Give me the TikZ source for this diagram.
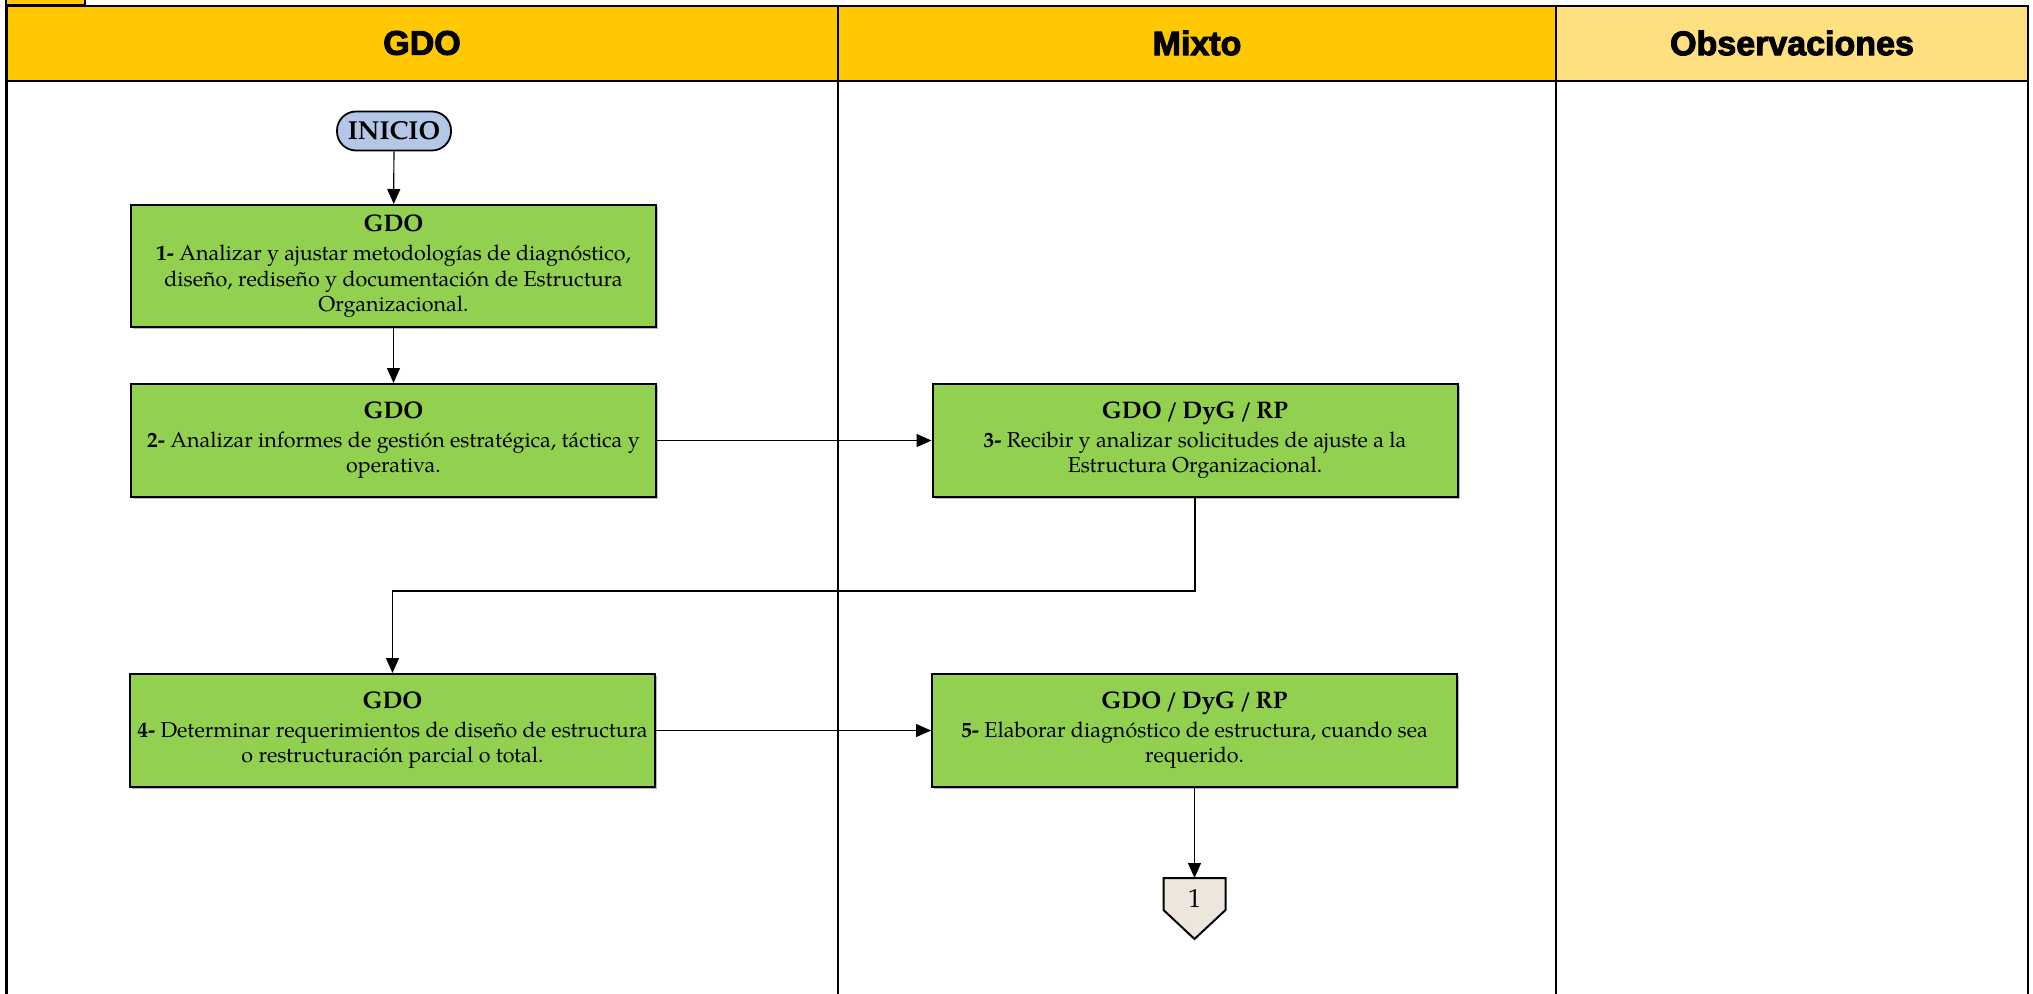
\documentclass[tikz,border=0pt]{standalone}
\usepackage{fontspec}
\setmainfont{texgyrepagella}[Extension=.otf, UprightFont=*-regular, BoldFont=*-bold, ItalicFont=*-italic, BoldItalicFont=*-bolditalic]
\newfontfamily\hdrfont{Liberation Sans}[BoldFeatures={FakeBold=3}]
\usetikzlibrary{arrows.meta,shadows}
\definecolor{hdryellow}{HTML}{FFC800}
\definecolor{hdrlight}{HTML}{FFE081}
\definecolor{boxgreen}{HTML}{92D050}
\definecolor{startblue}{HTML}{B4C7E7}
\definecolor{connbeige}{HTML}{ECE6DC}
\tikzset{
  x=1pt, y=-1pt,
  gridline/.style={line width=2.5pt, draw=black},
  hdrcell/.style={fill=hdryellow, draw=black, line width=2.5pt},
  hdrtext/.style={font=\hdrfont\bfseries\fontsize{34}{38}\selectfont, inner sep=0pt},
  stepbox/.style={rectangle, draw=black, line width=2pt, fill=boxgreen,
    minimum width=525pt, minimum height=113pt, inner sep=0pt, align=center,
    font=\fontsize{21.5}{25.5}\selectfont,
    drop shadow={shadow xshift=2pt, shadow yshift=-2pt, fill=black!45, opacity=0.6}},
  startnode/.style={rectangle, rounded corners=19pt, draw=black, line width=1.8pt, fill=startblue,
    minimum width=114pt, minimum height=39pt, inner sep=0pt, font=\bfseries\fontsize{26}{30}\selectfont},
  flow/.style={line width=1.2pt, draw=black, -{Triangle[length=15pt,width=13pt]}},
}
\newcommand{\ttl}[1]{{\bfseries\fontsize{24}{28}\selectfont\spaceskip=0.17em #1}}
\begin{document}
\begin{tikzpicture}
\useasboundingbox (0,0) rectangle (2033,993);
% small tab top-left
\filldraw[fill=hdryellow, draw=black, line width=2.5pt] (6,-10) rectangle (85,5);
% header cells
\filldraw[hdrcell] (6.5,6) rectangle (838,81);
\filldraw[hdrcell] (838,6) rectangle (1556,81);
\filldraw[hdrcell, fill=hdrlight] (1556,6) rectangle (2028,81);
\node[hdrtext] (h1) at (422,43) {GDO};
\node[hdrtext] (h2) at (1197,43) {Mixto};
\node[hdrtext] (h3) at (1792,43) {Observaciones};
% column lines
\draw[gridline] (6.5,81) -- (6.5,1000);
\draw[gridline] (838,81) -- (838,1000);
\draw[gridline] (1556,81) -- (1556,1000);
\draw[gridline] (2028,81) -- (2028,1000);
\draw[gridline] (85,6) -- (2028,6);

% nodes
\node[startnode] (start) at (394,131) {INICIO};
\node[stepbox, minimum height=122pt] (s1) at (393.5,266) {\ttl{GDO}\\[4pt]\textbf{1-} Analizar y ajustar metodologías de diagnóstico,\\ diseño, rediseño y documentación de Estructura\\ Organizacional.};
\node[stepbox] (s2) at (393.5,440.5) {\ttl{GDO}\\[3pt]\textbf{2-} Analizar informes de gestión estratégica, táctica y\\ operativa.};
\node[stepbox] (s3) at (1195,440.5) {\ttl{GDO / DyG / RP}\\[3pt]\textbf{3-} Recibir y analizar solicitudes de ajuste a la\\ Estructura Organizacional.};
\node[stepbox] (s4) at (392.5,730.5) {\ttl{GDO}\\[3pt]\textbf{4-} Determinar requerimientos de diseño de estructura\\ o restructuración parcial o total.};
\node[stepbox] (s5) at (1194.5,730.5) {\ttl{GDO / DyG / RP}\\[3pt]\textbf{5-} Elaborar diagnóstico de estructura, cuando sea\\ requerido.};

% off-page connector
\coordinate (c1top) at (1194.5,878);
\filldraw[fill=connbeige, draw=black, line width=2pt] (1163.5,878) -- (1225.5,878) -- (1225.5,910) -- (1194.5,939) -- (1163.5,910) -- cycle;
\node[inner sep=0pt, font=\fontsize{26}{28}\selectfont] (c1) at (1194.5,899) {1};

% connectors
\draw[flow] (start) -- (s1);
\draw[flow] (s1) -- (s2);
\draw[flow] (s2) -- (s3);
\coordinate (bend1) at (s3.south |- 0,591);
\coordinate (bend2) at (s4.north |- 0,591);
\draw[flow] (s3.south) -- (bend1) -- (bend2) -- (s4.north);
\draw[flow] (s4) -- (s5);
\draw[flow] (s5.south) -- (c1top);
\end{tikzpicture}
\end{document}
